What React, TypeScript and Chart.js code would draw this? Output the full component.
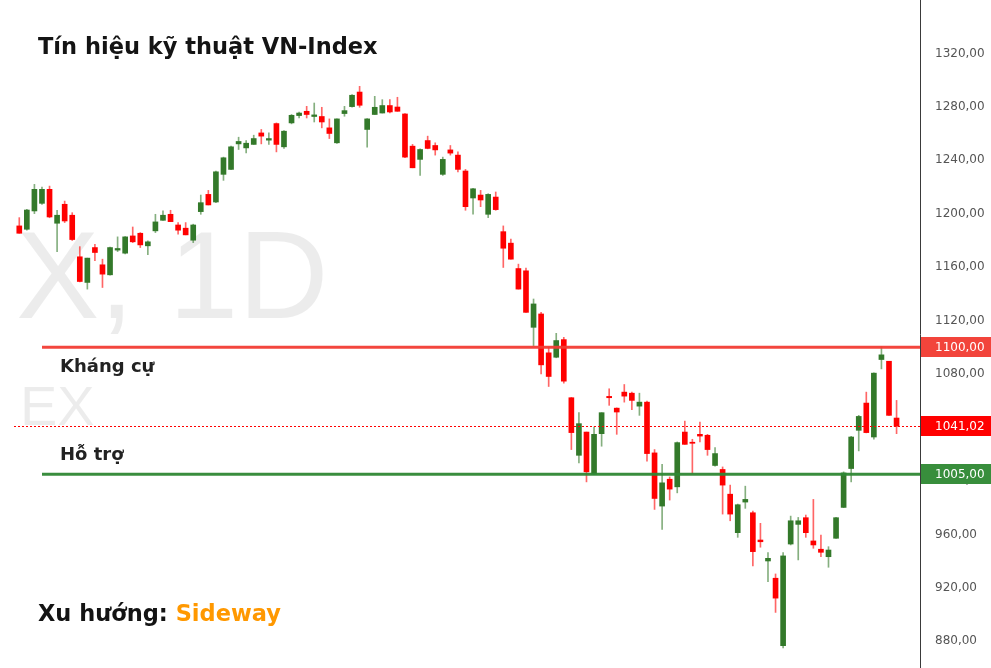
import React, { useEffect, useRef } from "react";
import { Chart, registerables } from "chart.js";
Chart.register(...registerables);

const opens = [
  1190.9, 1188.4, 1202.1, 1207.8, 1218.3, 1192.9, 1207.1, 1198.9, 1167.8, 1148.6,
  1174.7, 1161.8, 1154.3, 1172.8, 1170.5, 1183.4, 1185.4, 1176.0, 1187.2, 1195.1,
  1199.6, 1191.6, 1189.2, 1180.2, 1201.6, 1214.5, 1208.8, 1229.5, 1233.2, 1252.3,
  1249.3, 1251.9, 1260.5, 1255.1, 1267.5, 1250.1, 1268.0, 1273.5, 1276.7, 1272.8,
  1272.8, 1264.3, 1253.1, 1275.0, 1280.2, 1291.1, 1263.1, 1274.3, 1275.4, 1281.0,
  1279.9, 1274.7, 1250.6, 1240.7, 1254.8, 1251.1, 1229.5, 1247.8, 1243.9, 1232.0,
  1211.8, 1214.0, 1199.6, 1212.5, 1186.6, 1178.0, 1159.0, 1157.3, 1115.0, 1125.0,
  1095.9, 1092.6, 1105.8, 1062.3, 1019.2, 1036.6, 1005.1, 1035.4, 1063.3, 1054.5,
  1066.5, 1065.7, 1056.0, 1059.0, 1021.0, 981.2, 1001.3, 995.6, 1036.6, 1029.0,
  1034.9, 1034.2, 1011.6, 1008.6, 990.1, 961.3, 984.2, 976.2, 955.8, 940.1,
  927.2, 876.7, 952.8, 967.5, 972.5, 955.1, 948.9, 943.3, 957.1, 980.2,
  1009.3, 1037.9, 1058.3, 1032.9, 1090.9, 1089.6, 1047.1,
];
const highs = [
  1197.1, 1203.4, 1222.0, 1220.0, 1220.7, 1202.6, 1209.5, 1200.8, 1175.4, 1166.8,
  1177.2, 1166.0, 1175.0, 1182.7, 1183.0, 1190.1, 1185.9, 1179.7, 1199.6, 1202.1,
  1202.6, 1193.4, 1193.4, 1192.2, 1214.0, 1217.5, 1232.0, 1242.4, 1250.6, 1257.3,
  1254.8, 1258.8, 1263.1, 1260.5, 1268.0, 1262.3, 1274.3, 1276.2, 1280.4, 1282.9,
  1279.7, 1271.0, 1271.0, 1280.4, 1289.2, 1295.4, 1271.3, 1287.9, 1285.4, 1285.4,
  1287.2, 1275.0, 1251.9, 1248.6, 1258.1, 1253.1, 1242.4, 1251.1, 1246.3, 1233.2,
  1219.0, 1217.5, 1215.0, 1216.3, 1190.9, 1181.0, 1162.3, 1159.3, 1136.2, 1126.2,
  1100.1, 1110.5, 1107.5, 1062.5, 1051.1, 1036.6, 1040.4, 1051.1, 1069.0, 1054.7,
  1072.2, 1066.5, 1065.7, 1059.8, 1023.5, 1012.5, 1003.0, 1029.2, 1044.8, 1031.2,
  1044.1, 1034.9, 1025.0, 1010.5, 996.9, 982.7, 996.1, 977.5, 968.3, 946.3,
  930.4, 946.3, 973.7, 972.7, 974.5, 986.2, 959.5, 950.8, 972.7, 1006.8,
  1033.4, 1049.1, 1066.5, 1081.0, 1100.6, 1089.6, 1060.3,
];
const lows = [
  1185.4, 1187.7, 1200.1, 1207.0, 1197.0, 1171.7, 1193.4, 1180.0, 1149.0, 1143.6,
  1164.8, 1144.8, 1154.0, 1171.7, 1170.0, 1178.4, 1174.7, 1169.3, 1185.9, 1195.0,
  1194.1, 1184.7, 1184.2, 1178.4, 1199.6, 1206.6, 1208.3, 1225.0, 1233.0, 1248.1,
  1245.6, 1251.9, 1252.3, 1251.9, 1246.3, 1248.9, 1267.3, 1271.7, 1271.7, 1268.7,
  1264.3, 1256.3, 1252.6, 1273.0, 1279.7, 1279.7, 1249.8, 1274.3, 1275.4, 1275.4,
  1276.7, 1242.0, 1234.4, 1228.7, 1248.6, 1243.9, 1228.7, 1243.9, 1231.4, 1202.6,
  1199.6, 1205.3, 1197.1, 1202.6, 1159.8, 1166.0, 1143.6, 1126.2, 1101.3, 1080.2,
  1070.7, 1092.2, 1073.2, 1023.5, 1013.5, 999.3, 1005.0, 1026.0, 1056.6, 1034.9,
  1059.0, 1053.3, 1049.1, 1014.8, 978.7, 963.8, 985.7, 991.1, 1027.4, 1005.6,
  1029.2, 1019.2, 1011.0, 975.2, 970.2, 957.8, 979.5, 936.4, 950.4, 924.7,
  901.6, 875.0, 952.1, 940.9, 957.8, 949.6, 943.3, 935.4, 957.0, 980.0,
  999.3, 1022.5, 1036.0, 1031.2, 1083.9, 1049.0, 1035.4,
];
const closes = [
  1185.4, 1202.8, 1218.3, 1218.3, 1197.6, 1198.9, 1194.6, 1180.7, 1149.3, 1166.8,
  1171.0, 1154.8, 1174.7, 1174.0, 1182.7, 1179.0, 1176.7, 1179.0, 1193.9, 1198.9,
  1194.1, 1187.7, 1184.2, 1191.6, 1208.3, 1206.6, 1231.4, 1241.9, 1250.1, 1254.1,
  1252.8, 1256.3, 1258.1, 1256.3, 1251.9, 1261.8, 1273.7, 1275.4, 1274.3, 1274.0,
  1268.7, 1260.1, 1271.0, 1277.2, 1288.7, 1281.2, 1271.0, 1279.7, 1281.0, 1276.2,
  1276.7, 1242.4, 1234.4, 1248.1, 1248.9, 1247.8, 1240.7, 1245.4, 1233.2, 1205.3,
  1218.7, 1210.3, 1214.5, 1203.1, 1174.2, 1166.0, 1143.6, 1126.2, 1132.5, 1086.9,
  1078.2, 1105.1, 1074.7, 1036.2, 1042.9, 1006.8, 1034.9, 1051.1, 1062.3, 1051.6,
  1063.5, 1060.3, 1059.0, 1020.5, 986.9, 998.6, 993.9, 1028.7, 1027.4, 1028.2,
  1033.6, 1023.5, 1020.5, 996.9, 975.2, 982.2, 986.2, 947.1, 954.5, 942.1,
  912.3, 943.9, 970.2, 970.2, 961.3, 952.1, 946.6, 948.3, 972.5, 1006.0,
  1032.9, 1048.3, 1036.2, 1080.7, 1094.4, 1049.1, 1041.02,
];

const yTicks = [880, 920, 960, 1000, 1040, 1080, 1120, 1160, 1200, 1240, 1280, 1320];
const resistanceLevel = 1100;
const supportLevel = 1005;
const lastPrice = 1041.02;

const titleText = "Tín hiệu kỹ thuật VN-Index";
const resistanceText = "Kháng cự";
const supportText = "Hỗ trợ";
const trendLabel = "Xu hướng: ";
const trendValue = "Sideway";
const watermarkMain = "X, 1D";
const watermarkSub = "EX";

const GREEN = "#33792a";
const RED = "#ff0000";
const GREEN_WICK = "rgba(51,121,42,0.6)";
const RED_WICK = "rgba(255,0,0,0.6)";

const fmt = (v: number) => v.toFixed(2).replace(".", ",");

export default function App() {
  const ref = useRef<HTMLCanvasElement | null>(null);

  useEffect(() => {
    if (!ref.current) return;
    const idx = opens.map((_, i) => i);
    const up = idx.map((i) => closes[i] >= opens[i]);
    const wicks = idx.map((i) => ({ x: i, y: [lows[i], highs[i]] }));
    const bodies = idx.map((i) => ({ x: i, y: [opens[i], closes[i]] }));

    const overlay = {
      id: "overlay",
      beforeDatasetsDraw(chart: any) {
        const ctx = chart.ctx;
        ctx.save();
        ctx.fillStyle = "rgba(0,0,0,0.075)";
        ctx.textBaseline = "alphabetic";
        ctx.textAlign = "left";
        ctx.font = "125px 'Liberation Sans', Arial, sans-serif";
        ctx.fillText(watermarkMain, 16, 318);
        ctx.font = "56px 'Liberation Sans', Arial, sans-serif";
        ctx.fillText(watermarkSub, 20, 425);
        ctx.restore();
      },
      afterDatasetsDraw(chart: any) {
        const ctx = chart.ctx;
        const ys = chart.scales.y;
        const area = chart.chartArea;
        ctx.save();
        const yl = Math.round(ys.getPixelForValue(lastPrice)) + 0.5;
        ctx.strokeStyle = "#ff0000";
        ctx.lineWidth = 1;
        ctx.setLineDash([2, 2]);
        ctx.beginPath();
        ctx.moveTo(area.left + 14, yl);
        ctx.lineTo(area.right, yl);
        ctx.stroke();
        ctx.setLineDash([]);
        const yr = ys.getPixelForValue(resistanceLevel);
        const ysu = ys.getPixelForValue(supportLevel);
        ctx.lineWidth = 3;
        ctx.strokeStyle = "rgba(242,60,52,0.95)";
        ctx.beginPath();
        ctx.moveTo(42, yr);
        ctx.lineTo(area.right, yr);
        ctx.stroke();
        ctx.strokeStyle = "rgba(46,135,52,0.95)";
        ctx.beginPath();
        ctx.moveTo(42, ysu);
        ctx.lineTo(area.right, ysu);
        ctx.stroke();
        ctx.textAlign = "left";
        ctx.textBaseline = "alphabetic";
        ctx.fillStyle = "#141414";
        ctx.font = "bold 22.5px 'DejaVu Sans', sans-serif";
        ctx.fillText(titleText, 38, 54);
        ctx.font = "bold 18px 'DejaVu Sans', sans-serif";
        ctx.fillStyle = "#222";
        ctx.fillText(resistanceText, 60, yr + 25);
        ctx.fillText(supportText, 60, ysu - 14);
        ctx.font = "bold 22.5px 'DejaVu Sans', sans-serif";
        ctx.fillStyle = "#141414";
        ctx.fillText(trendLabel, 38, 621);
        const w = ctx.measureText(trendLabel).width;
        ctx.fillStyle = "#ff9800";
        ctx.fillText(trendValue, 38 + w, 621);
        ctx.restore();
      },
      afterDraw(chart: any) {
        const ctx = chart.ctx;
        const ys = chart.scales.y;
        const area = chart.chartArea;
        const boxes: [number, string][] = [
          [resistanceLevel, "#f2443b"],
          [lastPrice, "#ff0000"],
          [supportLevel, "#388e3c"],
        ];
        ctx.save();
        ctx.font = "12px 'DejaVu Sans', sans-serif";
        ctx.textBaseline = "middle";
        ctx.textAlign = "left";
        boxes.forEach(([v, c]) => {
          const py = Math.round(ys.getPixelForValue(v));
          ctx.fillStyle = c;
          ctx.fillRect(area.right + 1, py - 10, chart.width - area.right - 1, 20);
          ctx.fillStyle = "#ffffff";
          ctx.fillText(fmt(v), area.right + 15, py + 1);
        });
        ctx.restore();
      },
    };

    const chart = new Chart(ref.current, {
      type: "bar",
      data: {
        datasets: [
          {
            data: wicks as any,
            backgroundColor: up.map((u) => (u ? GREEN_WICK : RED_WICK)),
            barThickness: 1,
            grouped: false,
            order: 2,
            borderWidth: 0,
          },
          {
            data: bodies as any,
            backgroundColor: up.map((u) => (u ? GREEN : RED)),
            barThickness: 5,
            grouped: false,
            minBarLength: 1,
            order: 1,
            borderWidth: 0,
          },
        ],
      },
      options: {
        animation: false,
        responsive: true,
        maintainAspectRatio: false,
        layout: { padding: 0 },
        plugins: {
          legend: { display: false },
          tooltip: { enabled: false },
          title: { display: false },
        },
        scales: {
          x: {
            type: "linear",
            display: false,
            offset: false,
            min: -2.55,
            max: 119.1,
            grid: { display: false },
          },
          y: {
            type: "linear",
            position: "right",
            min: 860,
            max: 1360,
            afterBuildTicks: (axis: any) => {
              axis.ticks = yTicks.map((v) => ({ value: v }));
            },
            afterFit: (axis: any) => {
              axis.width = 71;
              axis.paddingTop = 0;
              axis.paddingBottom = 0;
            },
            grid: { display: false, drawTicks: false },
            border: { display: true, color: "#3a3a3a", width: 1 },
            ticks: {
              padding: 15,
              color: "#555",
              font: { family: "'DejaVu Sans', sans-serif", size: 12 },
              callback: (v: any) => fmt(Number(v)),
            },
          },
        },
      },
      plugins: [overlay],
    } as any);

    return () => chart.destroy();
  }, []);

  return (
    <div
      style={{
        position: "fixed",
        left: 0,
        top: 0,
        width: 991,
        height: 668,
        background: "#ffffff",
      }}
    >
      <canvas ref={ref} />
    </div>
  );
}
